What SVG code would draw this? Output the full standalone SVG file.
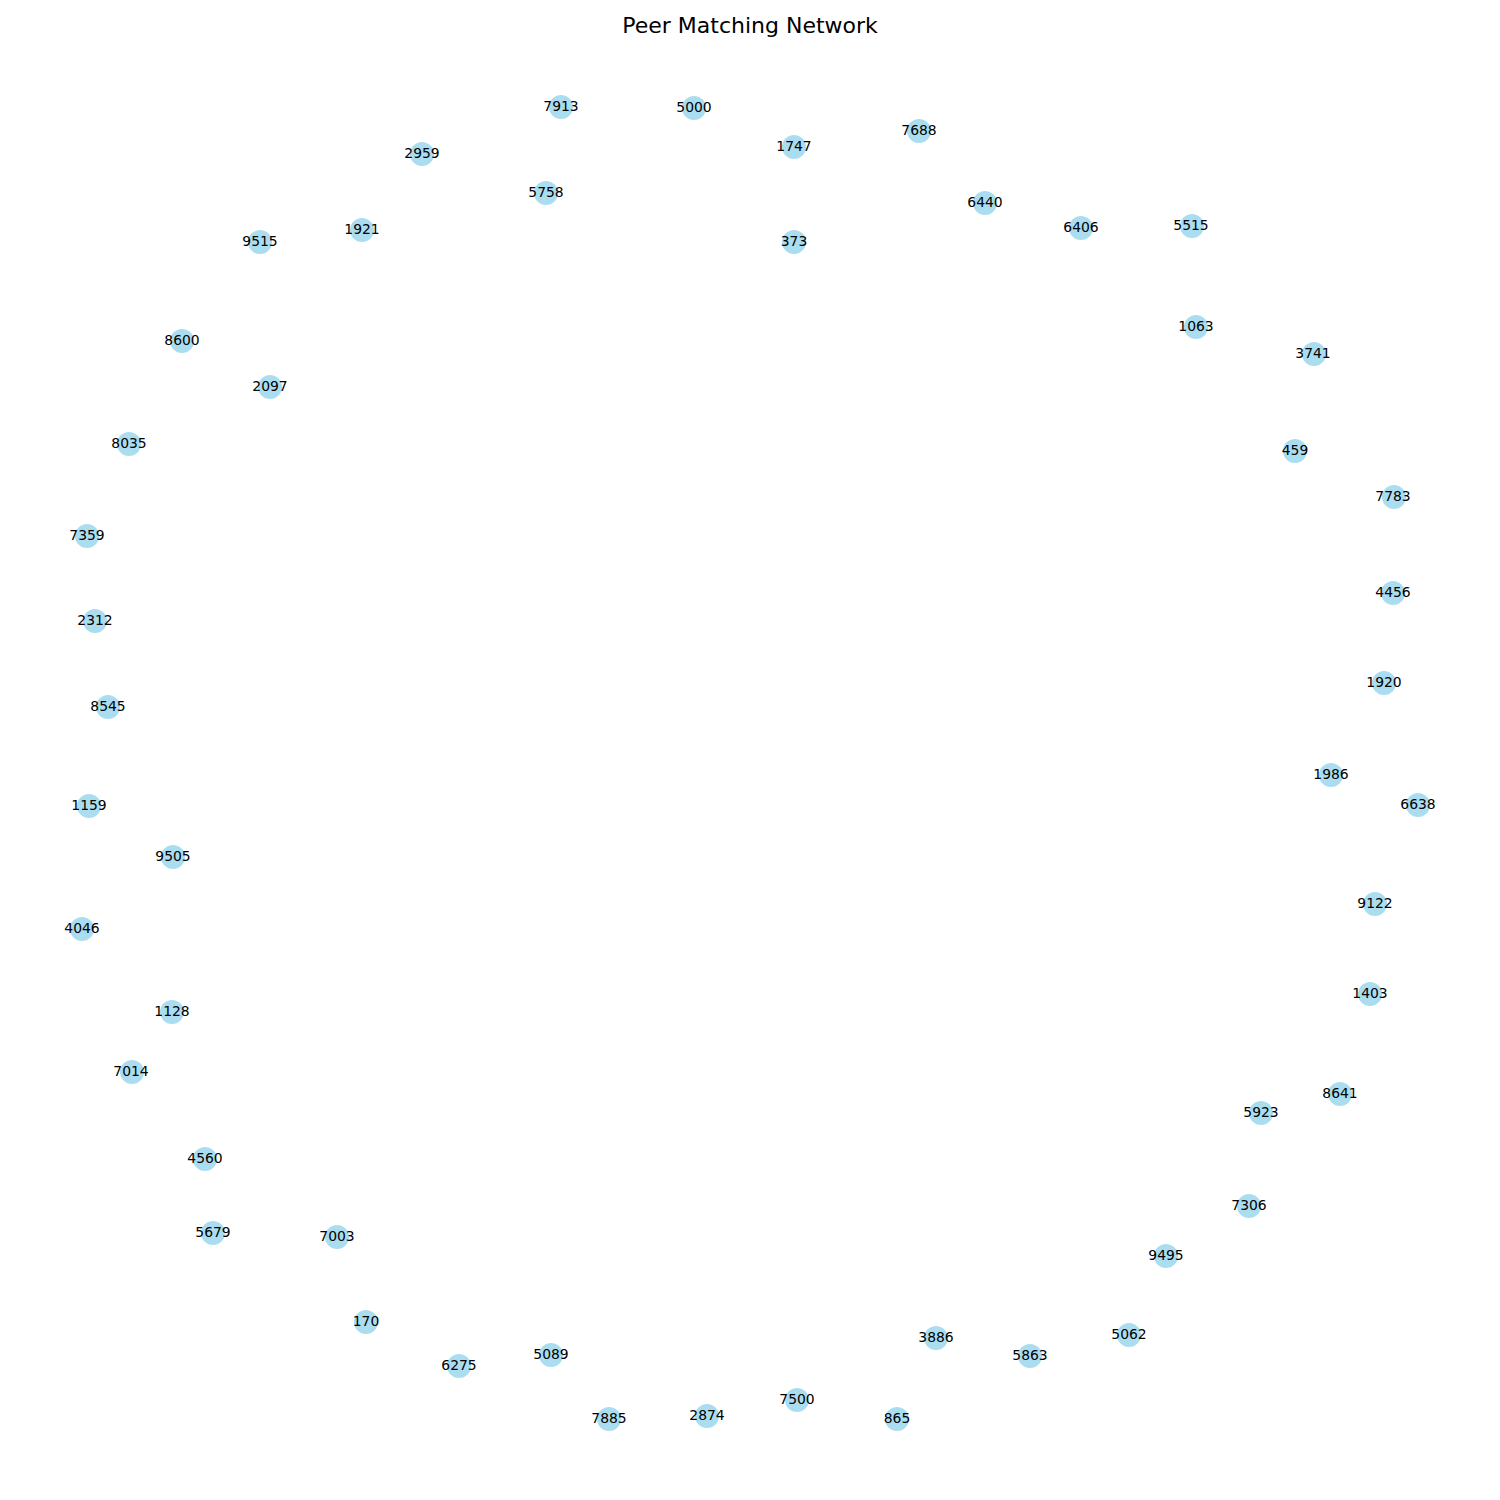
<svg xmlns="http://www.w3.org/2000/svg" width="1500" height="1500" viewBox="0 0 1500 1500">
<style>
.n circle{fill:#87CEEB;fill-opacity:0.7}
.n text{font-family:"DejaVu Sans",sans-serif;font-size:13.9px;fill:#000;text-anchor:middle}
.title{font-family:"DejaVu Sans",sans-serif;font-size:22px;fill:#000;text-anchor:middle}
</style>
<rect width="1500" height="1500" fill="#fff"/>
<text class="title" x="750" y="33">Peer Matching Network</text>
<g id="edges"></g>
<g id="nodes">
<g class="n" id="n7913"><circle cx="561" cy="107" r="12"/><text x="561" y="110.6">7913</text></g>
<g class="n" id="n5000"><circle cx="694" cy="108" r="12"/><text x="694" y="111.6">5000</text></g>
<g class="n" id="n1747"><circle cx="794" cy="147" r="12"/><text x="794" y="150.6">1747</text></g>
<g class="n" id="n7688"><circle cx="919" cy="131" r="12"/><text x="919" y="134.6">7688</text></g>
<g class="n" id="n2959"><circle cx="422" cy="154" r="12"/><text x="422" y="157.6">2959</text></g>
<g class="n" id="n5758"><circle cx="546" cy="193" r="12"/><text x="546" y="196.6">5758</text></g>
<g class="n" id="n6440"><circle cx="985" cy="203" r="12"/><text x="985" y="206.6">6440</text></g>
<g class="n" id="n6406"><circle cx="1081" cy="228" r="12"/><text x="1081" y="231.6">6406</text></g>
<g class="n" id="n5515"><circle cx="1192" cy="226" r="12"/><text x="1191" y="229.6">5515</text></g>
<g class="n" id="n9515"><circle cx="260" cy="242" r="12"/><text x="260" y="245.6">9515</text></g>
<g class="n" id="n1921"><circle cx="362" cy="230" r="12"/><text x="362" y="233.6">1921</text></g>
<g class="n" id="n373"><circle cx="794" cy="242" r="12"/><text x="794" y="245.6">373</text></g>
<g class="n" id="n1063"><circle cx="1196" cy="327" r="12"/><text x="1196" y="330.6">1063</text></g>
<g class="n" id="n3741"><circle cx="1314" cy="354" r="12"/><text x="1313" y="357.6">3741</text></g>
<g class="n" id="n8600"><circle cx="182" cy="341" r="12"/><text x="182" y="344.6">8600</text></g>
<g class="n" id="n2097"><circle cx="270" cy="387" r="12"/><text x="270" y="390.6">2097</text></g>
<g class="n" id="n8035"><circle cx="129" cy="444" r="12"/><text x="129" y="447.6">8035</text></g>
<g class="n" id="n459"><circle cx="1295" cy="451" r="12"/><text x="1295" y="454.6">459</text></g>
<g class="n" id="n7783"><circle cx="1394" cy="497" r="12"/><text x="1393" y="500.6">7783</text></g>
<g class="n" id="n7359"><circle cx="87" cy="536" r="12"/><text x="87" y="539.6">7359</text></g>
<g class="n" id="n4456"><circle cx="1393" cy="593" r="12"/><text x="1393" y="596.6">4456</text></g>
<g class="n" id="n2312"><circle cx="95" cy="621" r="12"/><text x="95" y="624.6">2312</text></g>
<g class="n" id="n1920"><circle cx="1384" cy="683" r="12"/><text x="1384" y="686.6">1920</text></g>
<g class="n" id="n8545"><circle cx="108" cy="707" r="12"/><text x="108" y="710.6">8545</text></g>
<g class="n" id="n1986"><circle cx="1331" cy="775" r="12"/><text x="1331" y="778.6">1986</text></g>
<g class="n" id="n6638"><circle cx="1418" cy="805" r="12"/><text x="1418" y="808.6">6638</text></g>
<g class="n" id="n1159"><circle cx="89" cy="806" r="12"/><text x="89" y="809.6">1159</text></g>
<g class="n" id="n9505"><circle cx="173" cy="857" r="12"/><text x="173" y="860.6">9505</text></g>
<g class="n" id="n9122"><circle cx="1375" cy="904" r="12"/><text x="1375" y="907.6">9122</text></g>
<g class="n" id="n4046"><circle cx="82" cy="929" r="12"/><text x="82" y="932.6">4046</text></g>
<g class="n" id="n1403"><circle cx="1370" cy="994" r="12"/><text x="1370" y="997.6">1403</text></g>
<g class="n" id="n1128"><circle cx="172" cy="1012" r="12"/><text x="172" y="1015.6">1128</text></g>
<g class="n" id="n7014"><circle cx="132" cy="1072" r="12"/><text x="131" y="1075.6">7014</text></g>
<g class="n" id="n8641"><circle cx="1340" cy="1094" r="12"/><text x="1340" y="1097.6">8641</text></g>
<g class="n" id="n5923"><circle cx="1261" cy="1113" r="12"/><text x="1261" y="1116.6">5923</text></g>
<g class="n" id="n4560"><circle cx="205" cy="1159" r="12"/><text x="205" y="1162.6">4560</text></g>
<g class="n" id="n7306"><circle cx="1249" cy="1206" r="12"/><text x="1249" y="1209.6">7306</text></g>
<g class="n" id="n5679"><circle cx="213" cy="1233" r="12"/><text x="213" y="1236.6">5679</text></g>
<g class="n" id="n7003"><circle cx="337" cy="1237" r="12"/><text x="337" y="1240.6">7003</text></g>
<g class="n" id="n9495"><circle cx="1166" cy="1256" r="12"/><text x="1166" y="1259.6">9495</text></g>
<g class="n" id="n170"><circle cx="366" cy="1322" r="12"/><text x="366" y="1325.6">170</text></g>
<g class="n" id="n5062"><circle cx="1129" cy="1335" r="12"/><text x="1129" y="1338.6">5062</text></g>
<g class="n" id="n3886"><circle cx="936" cy="1338" r="12"/><text x="936" y="1341.6">3886</text></g>
<g class="n" id="n5863"><circle cx="1030" cy="1356" r="12"/><text x="1030" y="1359.6">5863</text></g>
<g class="n" id="n5089"><circle cx="551" cy="1355" r="12"/><text x="551" y="1358.6">5089</text></g>
<g class="n" id="n6275"><circle cx="459" cy="1366" r="12"/><text x="459" y="1369.6">6275</text></g>
<g class="n" id="n7500"><circle cx="797" cy="1400" r="12"/><text x="797" y="1403.6">7500</text></g>
<g class="n" id="n7885"><circle cx="609" cy="1419" r="12"/><text x="609" y="1422.6">7885</text></g>
<g class="n" id="n2874"><circle cx="707" cy="1416" r="12"/><text x="707" y="1419.6">2874</text></g>
<g class="n" id="n865"><circle cx="897" cy="1419" r="12"/><text x="897" y="1422.6">865</text></g>
</g>
</svg>
